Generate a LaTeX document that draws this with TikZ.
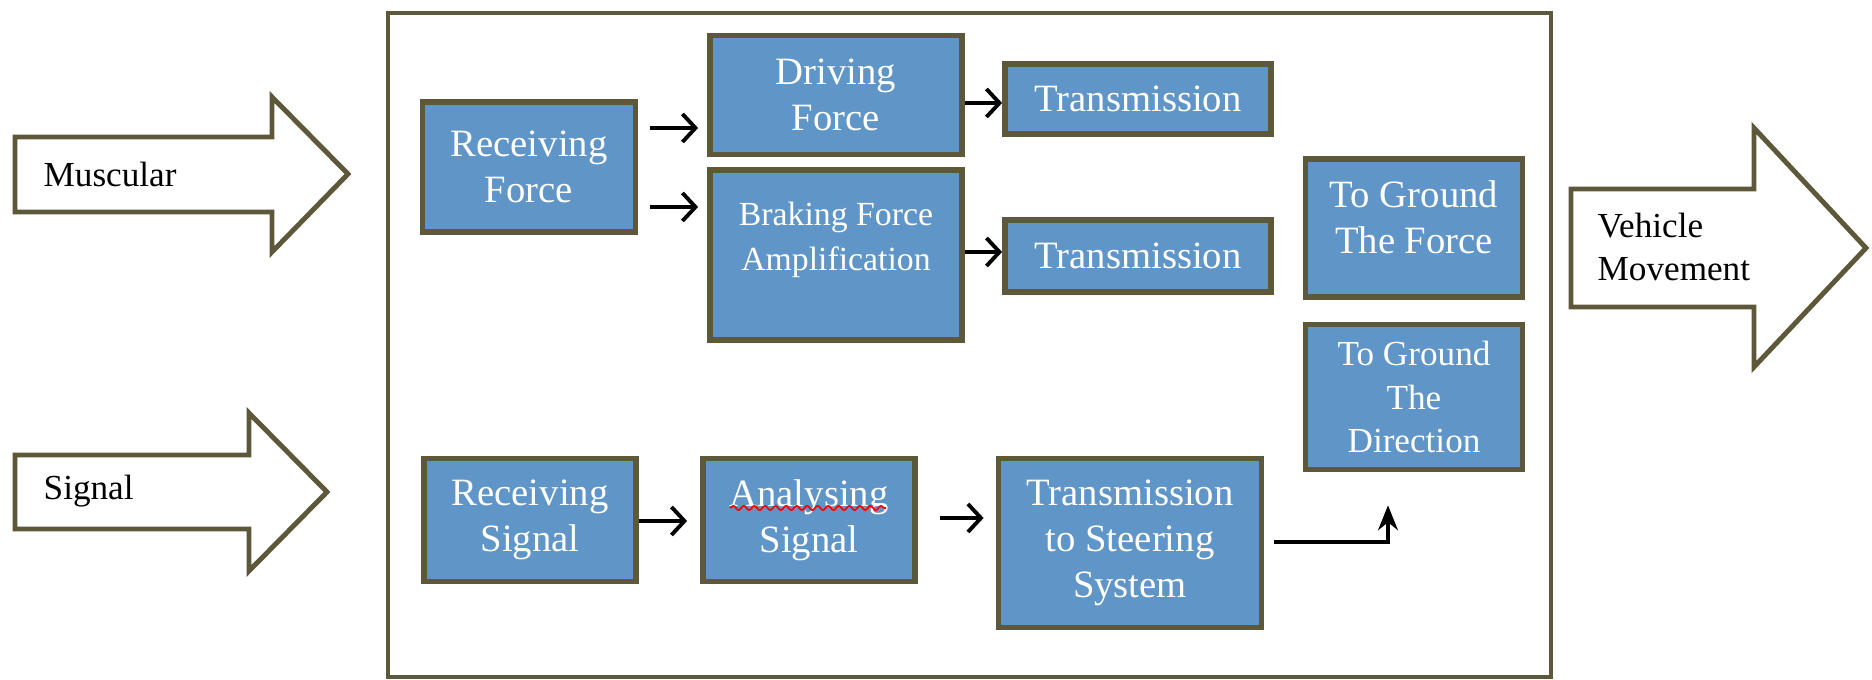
\documentclass[tikz,border=0pt]{standalone}
\usepackage{fontspec}
\setmainfont{Liberation Serif}
\usetikzlibrary{arrows.meta,decorations.pathmorphing}
\definecolor{boxblue}{RGB}{96,149,200}
\definecolor{edgeolive}{RGB}{94,88,58}
\begin{document}
\begin{tikzpicture}[x=0.01cm,y=-0.01cm,
  box/.style={draw=edgeolive,fill=boxblue,line width=1.6pt,text=white,align=center,inner sep=0pt,font=\fontsize{11}{13}\selectfont},
  boxtext/.style={text=white,align=center,font=\fontsize{11}{13}\selectfont},
  conn/.style={line width=1.1pt,-{Straight Barb[length=0.13cm,width=0.28cm]}},
  bigarrow/.style={draw=edgeolive,fill=white,line width=1.4pt,line join=miter},
  lbl/.style={anchor=west,inner sep=0pt,align=left,font=\fontsize{10}{12}\selectfont}]
  \useasboundingbox (0,0) rectangle (1872,680);
  \draw[edgeolive,line width=1.4pt] (388,13) rectangle (1551,677);
  \draw[bigarrow] (15,137) -- (272,137) -- (272,97) -- (348,174) -- (272,252) -- (272,212) -- (15,212) -- cycle;
  \node[lbl] (musc) at (43,174) {Muscular};
  \draw[bigarrow] (15,455) -- (249,455) -- (249,413) -- (327,492) -- (249,571) -- (249,529) -- (15,529) -- cycle;
  \node[lbl] (sig) at (43,491) {Signal};
  \draw[bigarrow] (1571,189) -- (1754,189) -- (1754,128) -- (1866,248) -- (1754,367) -- (1754,307) -- (1571,307) -- cycle;
  \node[lbl] (veh) at (1597,247) {Vehicle\\Movement};
  \node[box,minimum width=2.13cm,minimum height=1.30cm] (rf) at (529,167) {Receiving\\Force};
  \node[box,minimum width=2.52cm,minimum height=1.19cm] (df) at (836,95) {Driving\\Force};
  \node[box,minimum width=2.66cm,minimum height=0.70cm] (tr1) at (1138,99) {Transmission};
  \node[box,minimum width=2.52cm,minimum height=1.70cm,
    label={[boxtext,yshift=0.15cm,font=\fontsize{9.6}{13}\selectfont]center:{Braking Force\\Amplification}}] (bf) at (836,255) {};
  \node[box,minimum width=2.66cm,minimum height=0.72cm] (tr2) at (1138,256) {Transmission};
  \node[box,minimum width=2.17cm,minimum height=1.38cm,
    label={[boxtext,yshift=0.11cm]center:{To Ground\\The Force}}] (tgf) at (1414,228) {};
  \node[box,minimum width=2.17cm,minimum height=1.45cm,font=\fontsize{10}{12.3}\selectfont] (tgd) at (1414,397) {To Ground\\The\\Direction};
  \node[box,minimum width=2.12cm,minimum height=1.23cm] (rs) at (530,520) {Receiving\\Signal};
  \node[box,minimum width=2.12cm,minimum height=1.23cm] (as) at (809,520) {Analysing\\Signal};
  \node[box,minimum width=2.63cm,minimum height=1.69cm] (tss) at (1130,543) {Transmission\\to Steering\\System};
  \draw[red,line width=0.5pt,decorate,decoration={snake,amplitude=0.6pt,segment length=3pt}]
    (730,508) -- (886,508);
  \draw[conn,shorten <=0.12cm,shorten >=0.09cm] (rf.east |- 0,128) -- (df.west |- 0,128);
  \draw[conn,shorten <=0.12cm,shorten >=0.09cm] (rf.east |- 0,207) -- (bf.west |- 0,207);
  \draw[conn] (df.east |- 0,103) -- (tr1.west |- 0,103);
  \draw[conn] (bf.east |- 0,252) -- (tr2.west |- 0,252);
  \draw[conn,shorten >=0.13cm] (rs.east |- 0,521) -- (as.west |- 0,521);
  \draw[conn,shorten <=0.22cm,shorten >=0.12cm] (as.east |- 0,518) -- (tss.west |- 0,518);
  \draw[line width=0.9pt,-{Stealth[length=0.25cm,width=0.2cm]},shorten <=0.1cm,shorten >=0.33cm]
    (tss.east |- 0,542) -| (tgd.south -| 1388,0);
\end{tikzpicture}
\end{document}
